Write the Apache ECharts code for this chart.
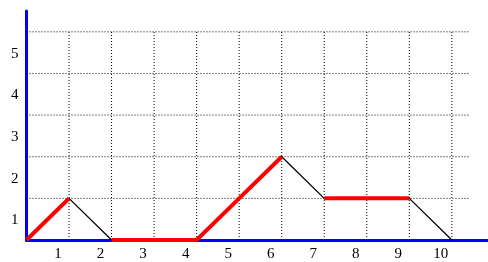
<!DOCTYPE html>
<html lang="en">
<head>
    <meta charset="UTF-8">
    <title>Path chart</title>
    <script type="text/javascript" src="https://cdn.jsdelivr.net/npm/echarts@6/dist/echarts.min.js"></script>
    <style>
        html, body { margin: 0; padding: 0; background: #fff; }
    </style>
</head>
<body>
<div id="main" style="width:488px;height:262px;"></div>

<script type="text/javascript">
    // data
    var xValues = [0, 1, 2, 3, 4, 5, 6, 7, 8, 9, 10];
    var yValues = [0, 1, 0, 0, 0, 1, 2, 1, 1, 1, 0];
    // red parts of the path, as [from index, to index]
    var redParts = [[0, 1], [2, 6], [7, 9]];
    // dotted grid
    var xGridTicks = [1, 2, 3, 4, 5, 6, 7, 8, 9, 10];
    var yGridTicks = [1, 2, 3, 4, 5];
    var gridTopValue = 5;
    var gridRightValue = 10.42;

    var series = [];

    // vertical dotted lines
    for (var i = 0; i < xGridTicks.length; i++) {
        series.push({
            type: 'line', symbol: 'none', silent: true, clip: false,
            lineStyle: { color: '#000', width: 1, type: [1, 2] },
            data: [[xGridTicks[i], 0], [xGridTicks[i], gridTopValue]]
        });
    }
    // horizontal dotted lines
    for (var j = 0; j < yGridTicks.length; j++) {
        series.push({
            type: 'line', symbol: 'none', silent: true, clip: false,
            lineStyle: { color: '#000', width: 1, type: [1, 2] },
            data: [[0, yGridTicks[j]], [gridRightValue, yGridTicks[j]]]
        });
    }

    // whole path in black
    var path = [];
    for (var k = 0; k < xValues.length; k++) {
        path.push([xValues[k], yValues[k]]);
    }
    series.push({
        type: 'line', symbol: 'none', clip: false, z: 5,
        lineStyle: { color: '#000', width: 1.3 },
        data: path
    });

    // red parts on top
    for (var r = 0; r < redParts.length; r++) {
        series.push({
            type: 'line', symbol: 'none', clip: false, z: 6,
            lineStyle: { color: '#ff0000', width: 4, cap: 'butt', join: 'miter' },
            data: path.slice(redParts[r][0], redParts[r][1] + 1)
        });
    }

    var myChart = echarts.init(document.getElementById('main'));
    var option = {
        animation: false,
        grid: { left: 26.5, right: 0, top: 11, bottom: 17 },
        xAxis: {
            type: 'value',
            min: 0, max: 10.85, interval: 1,
            axisLine: { show: true, lineStyle: { color: '#0000ff', width: 3 } },
            axisTick: { show: false },
            splitLine: { show: false },
            axisLabel: {
                showMinLabel: false, showMaxLabel: false,
                margin: 7,
                padding: [0, 22, 0, 0],
                color: '#000',
                fontFamily: 'Liberation Serif',
                fontSize: 15
            }
        },
        yAxis: {
            type: 'value',
            min: 0, max: 5.5, interval: 1,
            axisLine: { show: true, lineStyle: { color: '#0000ff', width: 3 } },
            axisTick: { show: false },
            splitLine: { show: false },
            axisLabel: {
                showMinLabel: false, showMaxLabel: false,
                margin: 8,
                verticalAlign: 'top',
                lineHeight: 44,
                color: '#000',
                fontFamily: 'Liberation Serif',
                fontSize: 15
            }
        },
        series: series
    };
    myChart.setOption(option);
</script>
</body>
</html>
